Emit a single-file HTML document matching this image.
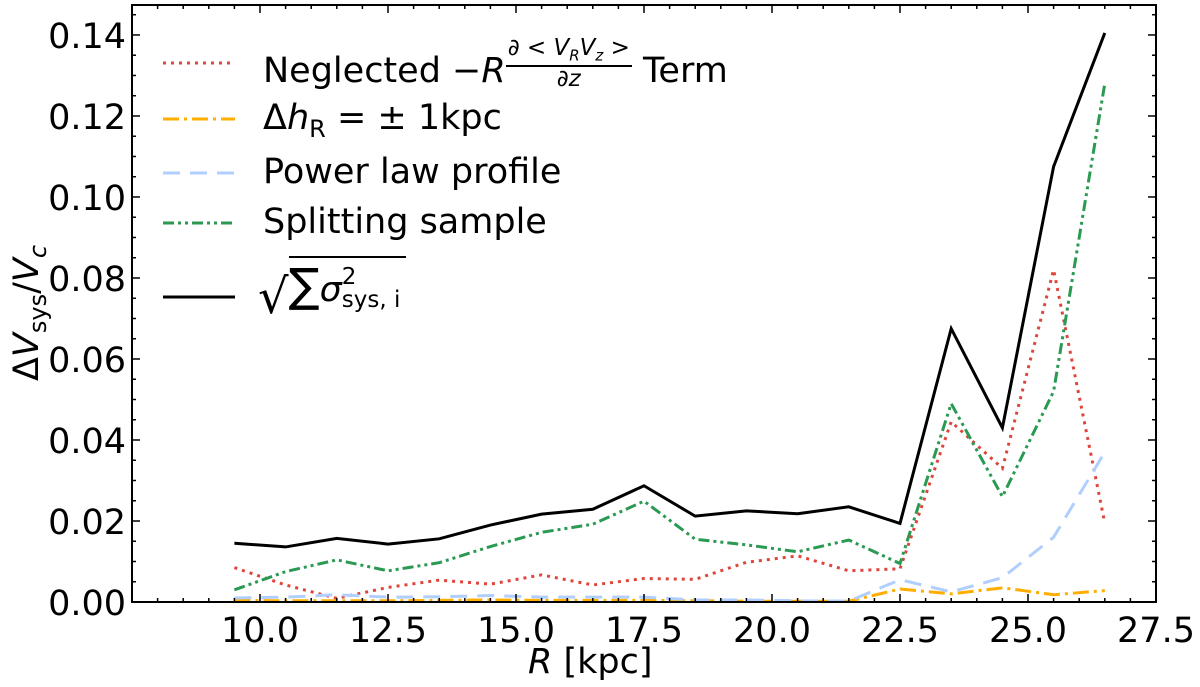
<!DOCTYPE html>
<html><head><meta charset="utf-8">
<style>
html,body{margin:0;padding:0;background:#fff;}
#wrap{position:relative;width:1200px;height:687px;overflow:hidden;font-family:"DejaVu Sans","Liberation Sans",sans-serif;}
svg{position:absolute;left:0;top:0;}
.leg{position:absolute;font-size:35px;color:#000;white-space:nowrap;line-height:1;}
.it{font-style:italic;}
.frac{display:inline-block;vertical-align:middle;text-align:center;font-size:23px;position:relative;top:-8px;}
.frac .num{display:block;border-bottom:2px solid #000;padding:0 2px 1px;}
.frac .den{display:block;padding-top:1px;}
</style></head>
<body>
<div id="wrap">
<svg id="plot" width="1200" height="687"></svg>

<div class="leg" style="left:263px;top:45px;">Neglected −<span class="it">R</span><span class="frac"><span class="num">∂ &lt; <span class="it">V<sub style="font-size:15px">R</sub>V<sub style="font-size:15px">z</sub></span> &gt;</span><span class="den"><span class="it">∂z</span></span></span> Term</div>
<div class="leg" style="left:263px;top:101px;">Δ<span class="it">h</span><sub style="font-size:24px">R</sub> = ± 1kpc</div>
<div class="leg" style="left:263px;top:155px;">Power law profile</div>
<div class="leg" style="left:263px;top:205px;">Splitting sample</div>
<div class="leg" style="left:258px;top:262px;"><span style="font-size:48px;position:relative;top:6px">√</span><span style="display:inline-block;border-top:2px solid #000;padding-top:4px;padding-right:6px;position:relative;top:-6px;"><span style="font-size:46px">∑</span><span class="it">σ</span><span style="display:inline-block;vertical-align:middle;line-height:1;font-size:23px;position:relative;top:-2px"><span style="display:block">2</span><span style="display:block">sys, i</span></span></span></div>

<div class="leg" style="left:528px;top:645px;font-size:35px"><span class="it">R</span> [kpc]</div>
<div class="leg" style="left:30px;top:313px;transform:translate(-50%,-50%) rotate(-90deg);font-size:35px">Δ<span class="it">V</span><sub style="font-size:24px">sys</sub>/<span class="it">V</span><sub class="it" style="font-size:24px">c</sub></div>
</div>

<script>
const radii = [9.5,10.5,11.5,12.5,13.5,14.5,15.5,16.5,17.5,18.5,19.5,20.5,21.5,22.5,23.5,24.5,25.5,26.5];
const neglectedTerm = [0.0085,0.0042,0.0009,0.0036,0.0054,0.0044,0.0067,0.0042,0.0058,0.0056,0.0098,0.0114,0.0077,0.0082,0.0445,0.033,0.082,0.0195];
const deltaHr = [0.0004,0.0003,0.0003,0.0003,0.0004,0.0005,0.0004,0.0004,0.0004,0.0003,0.0002,0.0002,0.0002,0.0032,0.002,0.0035,0.0018,0.0028];
const powerLaw = [0.001,0.0012,0.0018,0.0012,0.0013,0.0016,0.0012,0.0012,0.0012,0.0005,0.0005,0.0003,0.0002,0.0055,0.0025,0.006,0.016,0.037];
const splitting = [0.003,0.0075,0.0104,0.0077,0.0097,0.0137,0.0172,0.0192,0.0249,0.0155,0.0141,0.0124,0.0153,0.0095,0.049,0.026,0.052,0.128];
const total = [0.0145,0.0136,0.0157,0.0143,0.0156,0.019,0.0217,0.0229,0.0287,0.0212,0.0225,0.0218,0.0235,0.0194,0.0675,0.043,0.1075,0.1405];
const xTicks = [10,12.5,15,17.5,20,22.5,25,27.5];
const xTickLabels = ["10.0","12.5","15.0","17.5","20.0","22.5","25.0","27.5"];
const yTicks = [0,0.02,0.04,0.06,0.08,0.10,0.12,0.14];
const yTickLabels = ["0.00","0.02","0.04","0.06","0.08","0.10","0.12","0.14"];

const L=132,R=1156,T=5,B=602;
const xMin=7.5,xMax=27.5,yMin=0,yMax=0.1474;
const sx=v=>L+(v-xMin)/(xMax-xMin)*(R-L);
const sy=v=>B-(v-yMin)/(yMax-yMin)*(B-T);
const svg=document.getElementById('plot');
const NS='http://www.w3.org/2000/svg';
function mk(tag,attrs){const e=document.createElementNS(NS,tag);for(const k in attrs)e.setAttribute(k,attrs[k]);svg.appendChild(e);return e;}

const series=[
 {name:'neglected-term',data:neglectedTerm,color:'#e0453c',dash:'3,5',w:3},
 {name:'delta-hr',data:deltaHr,color:'#ffae00',dash:'16,5,3,5',w:3},
 {name:'power-law',data:powerLaw,color:'#b0cfff',dash:'17,10',w:3},
 {name:'splitting',data:splitting,color:'#2a9a52',dash:'11,4,3,4,3,4',w:3},
 {name:'total',data:total,color:'#000',dash:'none',w:3}
];
series.forEach(s=>{
  const p=mk('polyline',{points:s.data.map((v,i)=>sx(radii[i])+','+sy(v)).join(' '),fill:'none',stroke:s.color,'stroke-width':s.w,'stroke-dasharray':s.dash,'stroke-linejoin':'miter'});
  
  
});
const legY=[63,119,173,223,297];
series.forEach((s,i)=>{
  const l=mk('line',{x1:163,x2:235,y1:legY[i],y2:legY[i],stroke:s.color,'stroke-width':s.w,'stroke-dasharray':s.dash});
  
  
});

const fr=mk('rect',{x:L,y:T,width:R-L,height:B-T,fill:'none',stroke:'#000','stroke-width':2});



for(let v=7.5;v<=27.5001;v+=0.5){
  const major=Math.abs((v/2.5)-Math.round(v/2.5))<1e-6;
  const len=major?8:4,x=sx(v);
  const t1=mk('line',{x1:x,x2:x,y1:B,y2:B-len,stroke:'#000','stroke-width':1.5});
  
  
  const t2=mk('line',{x1:x,x2:x,y1:T,y2:T+len,stroke:'#000','stroke-width':1.5});
  
  
}
xTicks.forEach((v,i)=>{
  const t=mk('text',{x:sx(v),y:B+40,'text-anchor':'middle','font-size':35,'font-family':'DejaVu Sans, Liberation Sans, sans-serif'});
  t.textContent=xTickLabels[i];
  
  
});
for(let k=0;k<=29;k++){
  const v=k*0.005;
  const major=k%4===0;
  const len=major?8:4,y=sy(v);
  const t1=mk('line',{x1:L,x2:L+len,y1:y,y2:y,stroke:'#000','stroke-width':1.5});
  
  
  const t2=mk('line',{x1:R,x2:R-len,y1:y,y2:y,stroke:'#000','stroke-width':1.5});
  
  
}
yTicks.forEach((v,i)=>{
  const t=mk('text',{x:L-6,y:sy(v)+13,'text-anchor':'end','font-size':35,'font-family':'DejaVu Sans, Liberation Sans, sans-serif'});
  t.textContent=yTickLabels[i];
  
  
});
</script>
</body></html>
